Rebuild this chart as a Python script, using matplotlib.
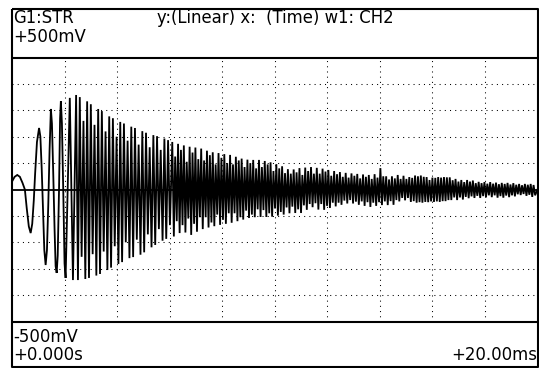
import numpy as np
import matplotlib.pyplot as plt
from matplotlib.lines import Line2D

# ---- waveform (ms, mV) ----
# first slow swings, traced point by point
head_ms = [0.00, 0.10, 0.20, 0.30, 0.40, 0.49, 0.56, 0.64, 0.71, 0.77,
           0.83, 0.88, 0.95, 1.03, 1.08, 1.13, 1.18, 1.23, 1.28, 1.33,
           1.38, 1.43, 1.48, 1.52, 1.57, 1.62, 1.66, 1.70, 1.74, 1.79,
           1.83, 1.86, 1.90, 1.95, 2.00, 2.04]
head_mv = [30, 48, 55, 48, 25, 0, -70, -140, -165, -130,
           -40, 60, 180, 233, 200, 80, -80, -230, -286, -230,
           -60, 150, 305, 250, 60, -150, -290, -316, -250, 0,
           270, 335, 250, 0, -280, -335]
end_ms, end_mv = 20.0, 0

# dense part: one peak and one trough per cycle
peak_ms = [2.20,
           2.44, 2.58, 2.72, 2.86, 3.00, 3.14, 3.28, 3.42, 3.56, 3.70,
           3.84, 3.98, 4.12, 4.26, 4.40, 4.54, 4.68, 4.82, 4.96, 5.10,
           5.24, 5.38, 5.52, 5.66, 5.80, 5.94,
           6.10, 6.21, 6.32, 6.43, 6.54, 6.65, 6.76, 6.87, 6.98, 7.09,
           7.20, 7.31, 7.42, 7.53, 7.64, 7.75, 7.86, 7.97, 8.08, 8.19,
           8.30, 8.41, 8.52, 8.63, 8.74, 8.85, 8.96, 9.07, 9.18, 9.29,
           9.40, 9.51, 9.62, 9.73, 9.84, 9.95, 10.06, 10.17, 10.28, 10.39,
           10.50, 10.61, 10.72, 10.83, 10.94, 11.05, 11.16, 11.27, 11.38, 11.49,
           11.60, 11.71, 11.82, 11.93, 12.04, 12.15, 12.26, 12.37, 12.48, 12.59,
           12.70, 12.81, 12.92, 13.03, 13.14, 13.25, 13.36, 13.47, 13.58, 13.69,
           13.80, 13.91, 14.02, 14.13, 14.24, 14.35, 14.46, 14.57, 14.68, 14.79,
           14.90, 15.01, 15.12, 15.23, 15.34, 15.45, 15.56, 15.67, 15.78, 15.89,
           16.00, 16.11, 16.22, 16.33, 16.44, 16.55, 16.66, 16.77, 16.88, 16.99,
           17.10, 17.21, 17.32, 17.43, 17.54, 17.65, 17.76, 17.87, 17.98, 18.09,
           18.20, 18.31, 18.42, 18.53, 18.64, 18.75, 18.86, 18.97, 19.08, 19.19,
           19.30, 19.41, 19.52, 19.63, 19.74, 19.85]
peak_mv = [347,
           358, 350, 260, 334, 323, 245, 305, 297, 220, 277,
           270, 200, 256, 250, 185, 238, 233, 170, 221, 215,
           160, 206, 202, 150, 193, 187,
           180, 125, 173, 150, 167, 105, 162, 140, 159, 115,
           155, 110, 147, 130, 141, 95, 138, 120, 134, 100,
           131, 95, 124, 110, 117, 85, 113, 100, 112, 80,
           112, 85, 108, 95, 103, 70, 96, 80, 88, 62,
           77, 60, 76, 65, 81, 55, 83, 70, 85, 60,
           82, 60, 79, 68, 74, 52, 70, 58, 66, 48,
           63, 45, 61, 52, 59, 42, 57, 48, 55, 40,
           58, 45, 81, 50, 50, 38, 50, 42, 55, 40,
           52, 40, 47, 44, 53, 50, 53, 48, 47, 36,
           45, 44, 47, 45, 47, 46, 46, 35, 40, 30,
           36, 28, 36, 30, 34, 24, 29, 24, 28, 22,
           28, 22, 26, 20, 25, 21, 25, 19, 24, 18,
           21, 16, 21, 18, 21, 17]
trough_ms = [2.32,
             2.51, 2.65, 2.79, 2.93, 3.07, 3.21, 3.35, 3.49, 3.63, 3.77,
             3.91, 4.05, 4.19, 4.33, 4.47, 4.61, 4.75, 4.89, 5.03, 5.17,
             5.31, 5.45, 5.59, 5.73, 5.87, 6.01,
             6.16, 6.27, 6.38, 6.49, 6.60, 6.71, 6.82, 6.93, 7.04, 7.15,
             7.26, 7.37, 7.48, 7.59, 7.70, 7.81, 7.92, 8.03, 8.14, 8.25,
             8.36, 8.47, 8.58, 8.69, 8.80, 8.91, 9.02, 9.13, 9.24, 9.35,
             9.46, 9.57, 9.68, 9.79, 9.90, 10.01, 10.12, 10.23, 10.34, 10.45,
             10.56, 10.67, 10.78, 10.89, 11.00, 11.11, 11.22, 11.33, 11.44, 11.55,
             11.66, 11.77, 11.88, 11.99, 12.10, 12.21, 12.32, 12.43, 12.54, 12.65,
             12.76, 12.87, 12.98, 13.09, 13.20, 13.31, 13.42, 13.53, 13.64, 13.75,
             13.86, 13.97, 14.08, 14.19, 14.30, 14.41, 14.52, 14.63, 14.74, 14.85,
             14.96, 15.07, 15.18, 15.29, 15.40, 15.51, 15.62, 15.73, 15.84, 15.95,
             16.06, 16.17, 16.28, 16.39, 16.50, 16.61, 16.72, 16.83, 16.94, 17.05,
             17.16, 17.27, 17.38, 17.49, 17.60, 17.71, 17.82, 17.93, 18.04, 18.15,
             18.26, 18.37, 18.48, 18.59, 18.70, 18.81, 18.92, 19.03, 19.14, 19.25,
             19.36, 19.47, 19.58, 19.69, 19.80, 19.91]
trough_mv = [-343,
             -343, -255, -339, -335, -245, -326, -320, -235, -305, -296,
             -215, -282, -275, -200, -260, -256, -190, -247, -238, -170,
             -219, -210, -150, -194, -187, -135,
             -178, -120, -165, -135, -163, -110, -172, -130, -160, -105,
             -150, -105, -144, -125, -139, -95, -134, -115, -130, -90,
             -126, -90, -120, -105, -114, -80, -108, -95, -105, -75,
             -104, -78, -104, -90, -103, -72, -99, -85, -95, -68,
             -90, -65, -89, -75, -89, -60, -77, -55, -67, -52,
             -76, -55, -77, -62, -70, -50, -64, -50, -58, -42,
             -53, -40, -53, -46, -58, -45, -62, -48, -66, -50,
             -62, -48, -59, -45, -59, -44, -58, -40, -45, -32,
             -41, -32, -47, -44, -50, -48, -50, -47, -48, -45,
             -47, -45, -47, -44, -44, -40, -40, -30, -40, -30,
             -38, -28, -33, -26, -32, -24, -32, -25, -30, -22,
             -29, -22, -31, -25, -31, -23, -29, -22, -26, -18,
             -21, -17, -24, -20, -28, -22]

# screen labels
title_left = "G1:STR"
title_mid = "y:(Linear) x:  (Time) w1: CH2"
y_top, y_bot = "+500mV", "-500mV"
x_left, x_right = "+0.000s", "+20.00ms"

# build the trace: head, then alternate peak / trough, then end
t = list(head_ms)
v = list(head_mv)
for i in range(len(peak_ms)):
    t.append(peak_ms[i]); v.append(peak_mv[i])
    if i < len(trough_ms):
        t.append(trough_ms[i]); v.append(trough_mv[i])
t.append(end_ms); v.append(end_mv)

W, H = 539, 368
fig = plt.figure(figsize=(W / 100, H / 100), dpi=100)
fig.patch.set_facecolor('white')

# plot area (pixel box 12..537.5 x 57.5..321.5)
L, R, T, B = 12, 537.5, 57.5, 321.5
ax = fig.add_axes([L / W, 1 - B / H, (R - L) / W, (B - T) / H])
ax.set_xlim(0, 20)
ax.set_ylim(-500, 500)
ax.axis('off')

dots = dict(color='black', lw=0.75, linestyle=(0, (1, 4)))
for gx in range(2, 20, 2):
    ax.axvline(gx, **dots)
for gy in [-400, -300, -200, -100, 100, 200, 300, 400]:
    ax.axhline(gy, **dots)
ax.axhline(0, color='black', lw=1.3)

ax.plot(t, v, color='black', lw=1.3, solid_joinstyle='miter')

# overlay in pixel coordinates for frame and text
ov = fig.add_axes([0, 0, 1, 1], facecolor='none')
ov.set_xlim(0, W)
ov.set_ylim(H, 0)
ov.axis('off')

frame = dict(color='black', lw=1.5, solid_capstyle='butt')
ov.add_line(Line2D([L, R, R, L, L], [8.5, 8.5, 367, 367, 8.5], **frame))
ov.add_line(Line2D([L, R], [T, T], **frame))
ov.add_line(Line2D([L, R], [B, B], **frame))

font = dict(family='DejaVu Sans', fontsize=11.9, color='black')
ov.text(13, 18, title_left, va='center', ha='left', **font)
ov.text(157, 18, title_mid, va='center', ha='left', **font)
ov.text(13, 37, y_top, va='center', ha='left', **font)
ov.text(13, 337, y_bot, va='center', ha='left', **font)
ov.text(13, 355, x_left, va='center', ha='left', **font)
ov.text(537, 355, x_right, va='center', ha='right', **font)

fig.savefig('out.png', dpi=100)
